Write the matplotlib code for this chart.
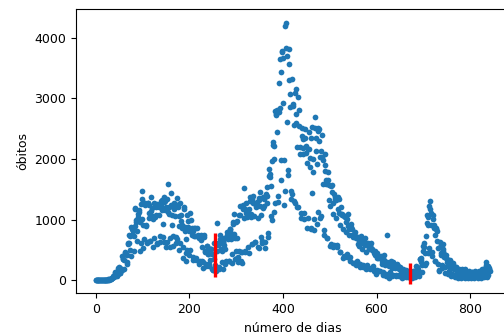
import numpy as np
import matplotlib
matplotlib.use('Agg')
import matplotlib.pyplot as plt

# óbitos diários, um dia por valor (cada linha = uma semana, começando na quarta)
onda1 = [
    0, 0, 0, 0, 0, 0, 0,
    0, 0, 0, 0, 0, 0, 0,
    0, 0, 0, 0, 0, 0, 1,
    3, 4, 7, 7, 9, 12, 13,
    11, 20, 15, 22, 22, 23, 42,
    41, 58, 60, 73, 54, 67, 114,
    133, 141, 115, 68, 99, 105, 204,
    188, 217, 206, 115, 113, 166, 165,
    165, 407, 357, 346, 189, 338, 474,
    449, 435, 428, 421, 275, 296, 600,
    615, 610, 751, 730, 496, 396, 881,
    749, 844, 824, 816, 485, 735, 1179,
    888, 1188, 1001, 965, 653, 807, 1039,
    1086, 1156, 1124, 956, 480, 623, 1262,
    1349, 1473, 1005, 904, 525, 679, 1272,
    1274, 1239, 909, 892, 612, 627, 1282,
    1269, 1238, 1022, 1109, 641, 654, 1374,
    1141, 1185, 1055, 1006, 552, 692, 1280,
    1038, 1252, 1214, 1071, 602, 620, 1254,
    1223, 1220, 1214, 1071, 631, 733, 1300,
    1233, 1322, 1163, 921, 716, 632, 1367,
    1284, 1156, 1311, 1211, 555, 627, 1346,
    1595, 1129, 1212, 1088, 541, 703, 1437,
    1226, 1237, 1079, 905, 572, 727, 1274,
    1175, 1060, 1262, 709, 620, 684, 1352,
    1204, 1234, 1054, 892, 494, 620, 1271,
    1085, 970, 855, 908, 366, 553, 1215,
    1184, 874, 814, 682, 447, 310, 504,
    1075, 983, 874, 814, 415, 506, 1113,
    987, 829, 858, 739, 336, 377, 809,
    869, 729, 869, 728, 363, 335, 863,
    733, 751, 730, 691, 275, 323, 734,
    701, 754, 657, 557, 316, 201, 309,
    716, 754, 485, 461, 230, 271, 571,
    566, 497, 432, 432, 240, 263, 342,
]

vale = [
    510, 513, 510, 440, 190, 162, 174,
    610, 350, 240, 250, 170, 150, 201,
    485, 940, 588, 611, 185, 216, 676,
    754, 607, 512, 475, 302, 194, 630,
    638, 691, 587, 523, 272, 323, 697,
    755, 795, 694, 676, 313, 315, 842,
    842, 817, 771, 686, 279, 433, 936,
    968, 1092, 759, 691, 350, 489, 962,
    985, 701, 370, 306, 386, 483, 1075,
    1224, 1074, 462, 314, 293, 469, 1171,
    1242, 1524, 1035, 1171, 469, 487, 1110,
    1274, 1151, 1050, 1096, 551, 452, 1183,
    1382, 1316, 1096, 1050, 592, 595, 1340,
    1283, 1386, 1279, 1063, 633, 631, 1202,
    1239, 1232, 1288, 1021, 543, 528, 1350,
    1330, 1452, 1232, 1078, 713, 607, 646,
    1189, 1367, 1344, 1226, 527, 639, 1386,
    1428, 1541, 1386, 1275, 721, 778, 1726,
]

onda2 = [
    1840, 1699, 1760, 1555, 1054, 987, 1972,
    2286, 2233, 2216, 1997, 1127, 1275, 2798,
    2736, 2724, 2815, 2438, 1290, 1383, 3251,
    2777, 2843, 3650, 3438, 1987, 1660, 3780,
    3769, 3673, 2922, 1987, 1240, 1480, 4195,
    3829, 4249, 3693, 2616, 1824, 1738, 3808,
    3560, 3305, 3070, 2865, 1347, 1480, 3321,
    1416, 2914, 2880, 2558, 1305, 1279, 3086,
    3163, 2746, 2601, 2202, 1202, 1207, 3025,
    2811, 2550, 2202, 2087, 1024, 1114, 2383,
    2507, 2324, 2178, 2082, 1116, 1013, 2346,
    2493, 2222, 2102, 1928, 860, 1025, 2173,
    2452, 2163, 2012, 1863, 860, 839, 2346,
    2536, 1437, 2008, 1783, 833, 1010, 2693,
    2504, 2344, 2131, 1916, 935, 1131, 2468,
    2507, 2494, 2301, 2026, 1025, 1066, 2131,
    2032, 2392, 1990, 1587, 739, 822, 1899,
    2081, 1795, 1648, 1595, 704, 695, 1780,
    1648, 1572, 1324, 1233, 572, 595, 1556,
    1574, 1454, 1269, 1088, 542, 578, 1424,
    1341, 1366, 1324, 1033, 556, 578, 1172,
    1366, 1344, 1110, 910, 460, 465, 1209,
    1096, 1079, 1099, 845, 373, 402, 1056,
    1050, 1064, 956, 789, 392, 433, 1019,
    892, 1090, 846, 740, 323, 382, 885,
    921, 851, 753, 718, 287, 282, 756,
    799, 733, 710, 697, 246, 309, 325,
    597, 714, 650, 562, 224, 265, 731,
    699, 650, 627, 514, 221, 260, 597,
    648, 696, 584, 460, 184, 260, 596,
    590, 616, 535, 517, 204, 194, 587,
    530, 607, 524, 498, 196, 232, 150,
    447, 419, 483, 427, 110, 162, 370,
    451, 402, 373, 379, 158, 155, 379,
    395, 371, 321, 264, 130, 84, 96,
    414, 332, 305, 248, 99, 74, 744,
    294, 271, 250, 228, 45, 111, 135,
    318, 262, 239, 203, 68, 80, 300,
    268, 275, 247, 200, 67, 86, 273,
    220, 225, 232, 178, 70, 94, 222,
    203, 177, 152, 120, 45, 58, 189,
    166, 145, 133, 111, 46, 85, 172,
    150, 131, 98, 57, 48, 68, 143,
    110, 125, 120, 60, 45, 50, 139,
]

onda3 = [
    148, 151, 133, 96, 56, 101, 243,
    227, 221, 193, 158, 67, 135, 359,
    350, 338, 375, 302, 137, 250, 487,
    570, 609, 552, 445, 251, 281, 733,
    944, 1073, 1041, 911, 450, 528, 1224,
    1300, 1171, 1108, 906, 406, 468, 1070,
    1012, 910, 857, 749, 321, 325, 866,
    851, 807, 654, 540, 274, 160, 167,
    541, 626, 443, 410, 197, 245, 596,
    521, 479, 432, 377, 120, 226, 421,
    373, 349, 305, 264, 96, 149, 325,
    330, 264, 226, 203, 74, 100, 287,
    288, 219, 193, 178, 60, 88, 218,
    225, 176, 147, 117, 38, 73, 191,
    171, 158, 125, 89, 30, 60, 194,
    110, 152, 118, 91, 42, 56, 179,
    153, 124, 116, 99, 38, 55, 158,
    128, 119, 108, 93, 40, 62, 139,
    136, 112, 104, 85, 37, 66, 158,
    129, 115, 107, 95, 38, 58, 149,
    126, 131, 120, 98, 40, 62, 185,
    167, 144, 138, 104, 46, 70, 196,
    250, 300, 174, 128, 52, 94, 232,
    208, 189, 155,
]

obitos = np.array(onda1 + vale + onda2 + onda3)
dias = np.arange(len(obitos))

# marcas vermelhas
marcos_x = [255, 671]
marcos_ymin = [55, -55]
marcos_ymax = [775, 285]

fig = plt.figure(figsize=(5.04, 3.36), dpi=100)
ax = fig.add_axes([0.1508, 0.1271, 0.860, 0.846])

ax.scatter(dias, obitos, s=17, color='#1f77b4', linewidths=0)
ax.vlines(marcos_x, marcos_ymin, marcos_ymax, colors='red', linewidth=2.4)

ax.set_xlim(-42, 884)
ax.set_ylim(-215, 4475)
ax.set_xlabel('número de dias', fontsize=9)
ax.set_ylabel('óbitos', fontsize=9)
ax.tick_params(labelsize=9)

fig.savefig('out.png', dpi=100)
